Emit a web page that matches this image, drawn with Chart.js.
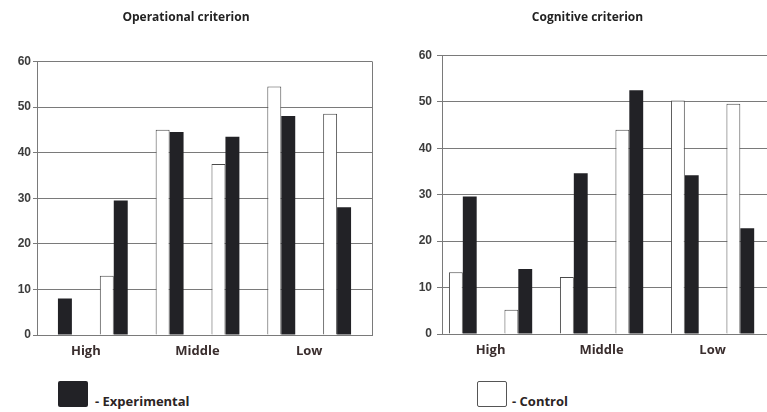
<!DOCTYPE html>
<html>
<head>
<meta charset="utf-8">
<script src="https://cdn.jsdelivr.net/npm/chart.js@4"></script>
<style>
  html, body { margin: 0; padding: 0; background: #fff; }
  body { width: 767px; height: 412px; overflow: hidden; position: relative; font-family: 'Open Sans', sans-serif; }
  .box { position: absolute; }
  #leftBox { left: 0; top: 0; width: 390px; height: 372px; }
  #rightBox { left: 400px; top: 0; width: 390px; height: 370px; }
  .key { position: absolute; top: 381px; width: 30px; height: 26px; box-sizing: border-box; border-radius: 2px; }
  .keyText { position: absolute; top: 393px; font-weight: bold; font-size: 13px; color: #2b2424; line-height: 16px; }
</style>
</head>
<body>
<div class="box" id="leftBox"><canvas id="operChart"></canvas></div>
<div class="box" id="rightBox"><canvas id="cognChart"></canvas></div>

<div class="key" style="left:58px; background:#222226;"></div>
<div class="keyText" style="left:95px;">- Experimental</div>
<div class="key" style="left:477px; background:#fff; border:1px solid #555;"></div>
<div class="keyText" style="left:512px;">- Control</div>

<script>
// уровни и этапы (I, II внутри каждого уровня)
const levels = ['High', 'Middle', 'Low'];
const stages = ['I', 'II', 'I', 'II', 'I', 'II'];

// Operational criterion
const operControl = [0, 13, 45, 37.5, 54.5, 48.5];
const operExperimental = [8, 29.5, 44.5, 43.5, 48, 28];

// Cognitive criterion
const cognControl = [13.3, 5.2, 12.3, 44, 50.3, 49.6];
const cognExperimental = [29.6, 14, 34.6, 52.5, 34.2, 22.8];

const yTicks = [0, 10, 20, 30, 40, 50, 60];

const toPoints = arr => arr.map((v, i) => ({ x: i, y: v }));

// правая рамка области графика
const framePlugin = {
    id: 'frame',
    afterDraw(chart) {
        const a = chart.chartArea, ctx = chart.ctx;
        ctx.save();
        ctx.strokeStyle = '#7a7a7a';
        ctx.lineWidth = 1;
        ctx.beginPath();
        ctx.moveTo(Math.round(a.right) + 0.5, a.top);
        ctx.lineTo(Math.round(a.right) + 0.5, a.bottom);
        ctx.stroke();
        ctx.restore();
    }
};

function makeChart(id, title, control, experimental, cfg) {
    const ctx = document.getElementById(id).getContext('2d');
    return new Chart(ctx, {
        type: 'bar',
        data: {
            datasets: [{
                label: 'Control',
                data: toPoints(control),
                backgroundColor: '#ffffff',
                borderColor: '#4a4a4a',
                borderWidth: 1,
                xAxisID: 'x'
            }, {
                label: 'Experimental',
                data: toPoints(experimental),
                backgroundColor: '#222226',
                borderColor: '#222226',
                borderWidth: 0,
                xAxisID: 'x'
            }]
        },
        options: {
            responsive: true,
            maintainAspectRatio: false,
            animation: false,
            categoryPercentage: 0.5,
            barPercentage: 1,
            layout: { padding: { left: 0, right: cfg.padRight, top: 0, bottom: 0 } },
            plugins: {
                legend: { display: false },
                tooltip: { enabled: false },
                title: {
                    display: true,
                    text: title,
                    color: '#222',
                    font: { family: 'Open Sans', size: 12, weight: 'bold' },
                    padding: { top: 10, bottom: cfg.titleGap }
                }
            },
            scales: {
                x: {
                    type: 'linear',
                    offset: false,
                    min: -0.375,
                    max: 5.625,
                    ticks: { display: false },
                    grid: { display: false, drawTicks: false },
                    border: { display: true, color: '#7a7a7a' },
                    afterFit: s => { s.height = 2; }
                },
                x2: {
                    type: 'linear',
                    position: 'bottom',
                    offset: false,
                    min: -0.375,
                    max: 5.625,
                    grid: { display: false, drawTicks: false },
                    border: { display: false },
                    afterBuildTicks: s => {
                        s.ticks = levels.map((l, i) => ({ value: i * 2 + 0.5 }));
                    },
                    ticks: {
                        autoSkip: false,
                        maxRotation: 0,
                        padding: 6,
                        color: '#3a2e2e',
                        font: { family: 'Open Sans', size: 13, weight: 'bold' },
                        callback: v => levels[Math.round((v - 0.5) / 2)]
                    },
                    afterFit: s => { s.height = cfg.x2Height; }
                },
                y: {
                    min: 0,
                    max: 60,
                    afterBuildTicks: s => { s.ticks = yTicks.map(v => ({ value: v })); },
                    ticks: {
                        padding: cfg.tickPad,
                        color: '#3c3c3c',
                        font: { family: 'Liberation Sans', size: 12, weight: 'bold' }
                    },
                    grid: { color: '#7a7a7a', tickLength: cfg.tickLen, lineWidth: 1 },
                    border: { color: '#7a7a7a' },
                    afterFit: s => { s.width = cfg.yWidth; }
                }
            }
        },
        plugins: [framePlugin]
    });
}

makeChart('operChart', 'Operational criterion', operControl, operExperimental,
    { padRight: 18, titleGap: 37, x2Height: 35, yWidth: 37, tickLen: 4, tickPad: 2 });
makeChart('cognChart', 'Cognitive criterion', cognControl, cognExperimental,
    { padRight: 15, titleGap: 31, x2Height: 34, yWidth: 42, tickLen: 5, tickPad: 5 });
</script>
</body>
</html>
